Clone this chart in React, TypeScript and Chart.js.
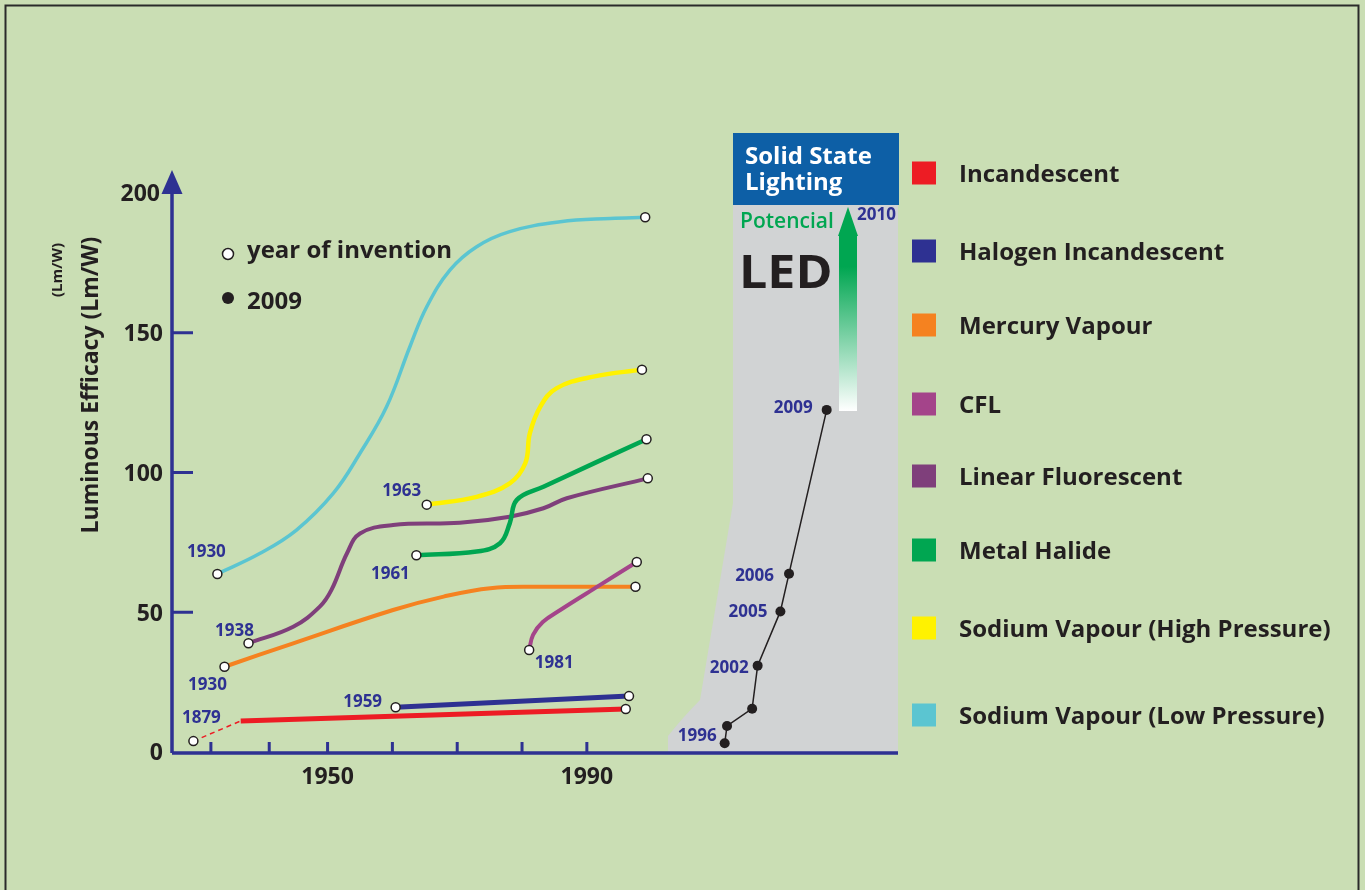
import React, { useEffect, useRef } from 'react';
import { Chart, registerables } from 'chart.js';

Chart.register(...registerables);

// ---------- data ----------
const Y_TICKS = [0, 50, 100, 150, 200];
const X_TICKS = [1932, 1941, 1950, 1960, 1970, 1980, 1990];
const X_TICK_LABELS = ['', '', '1950', '', '', '', '1990'];

const SERIES_NAMES = [
  'Incandescent',
  'Halogen Incandescent',
  'Mercury Vapour',
  'CFL',
  'Linear Fluorescent',
  'Metal Halide',
  'Sodium Vapour (High Pressure)',
  'Sodium Vapour (Low Pressure)',
];
const SERIES_COLORS = ['#ed1c24', '#2e3192', '#f58220', '#a4448a', '#7f3f7b', '#00a651', '#fff200', '#5bc5d1'];
const INVENTION_LABELS = ['1879', '1959', '1930', '1981', '1938', '1961', '1963', '1930'];

const INCANDESCENT_X = [1929.3, 1936.6, 1996.0];
const INCANDESCENT_Y = [3.9, 11.1, 15.4];
const HALOGEN_X = [1960.5, 1996.5];
const HALOGEN_Y = [16.0, 20.0];
const MERCURY_X = [1934.1, 1944.7, 1960.1, 1967.9, 1975.1, 1982.8, 1997.5];
const MERCURY_Y = [30.5, 38.9, 50.8, 55.6, 58.6, 59.1, 59.1];
const CFL_X = [1981.1, 1981.7, 1983.2, 1985.9, 1992.0, 1997.7];
const CFL_Y = [36.5, 41.9, 46.5, 50.8, 59.7, 68.0];
const LINEAR_X = [1937.8, 1944.7, 1948.8, 1950.6, 1953.0, 1955.0, 1960.1, 1970.4, 1978.1, 1983.3, 1986.9, 1999.4];
const LINEAR_Y = [38.9, 44.8, 52.0, 58.0, 71.1, 78.2, 81.2, 82.0, 84.2, 87.2, 90.8, 97.9];
const METAL_X = [1963.7, 1973.0, 1976.6, 1978.1, 1979.2, 1983.3, 1999.2];
const METAL_Y = [70.4, 71.7, 74.7, 81.8, 90.2, 94.9, 111.9];
const SODIUM_HP_X = [1965.3, 1973.0, 1978.1, 1980.5, 1981.2, 1982.8, 1985.3, 1991.0, 1998.5];
const SODIUM_HP_Y = [88.5, 91.3, 96.1, 103.3, 114.0, 123.5, 130.1, 134.3, 136.8];
const SODIUM_LP_X = [1933.0, 1939.6, 1945.2, 1950.9, 1955.0, 1959.1, 1962.7, 1965.3, 1968.9, 1973.0, 1978.1, 1985.9, 1993.6, 1999.0];
const SODIUM_LP_Y = [63.7, 71.1, 79.4, 92.6, 106.9, 123.5, 145.0, 159.3, 172.5, 180.8, 186.2, 189.7, 190.9, 191.3];

// LED inset (own time line)
const LED_T = [1996.0, 1996.3, 1999.5, 2000.2, 2003.1, 2004.2, 2009.0];
const LED_Y = [3.1, 9.3, 15.5, 30.9, 50.3, 63.8, 122.4];
const LED_LABELS = ['1996', '', '', '2002', '2005', '2006', '2009'];

// ---------- style ----------
const BG = '#cadeb4';
const NAVY = '#2e3192';
const INK = '#231f20';
const FONT = '"Open Sans", "DejaVu Sans", sans-serif';
// offset of invention label centre from the first point (px)
const LABEL_OFFSETS = [
  [8, -24], [-33, -6], [-17, 17], [25, 12], [-14, -13], [-26, 18], [-25, -15], [-11, -23],
];
const LED_LABEL_OFFSETS = [
  [-8, -8], [0, 0], [0, 0], [-9, 1], [-13, -1], [-15, 1], [-14, -3],
];
const LEGEND_Y = [173, 251, 325, 404, 476, 550, 628, 715];

function text(ctx: CanvasRenderingContext2D, s: string, x: number, cy: number, size: number, color: string, align: CanvasTextAlign = 'left', weight = '700') {
  ctx.font = `${weight} ${size}px ${FONT}`;
  ctx.fillStyle = color;
  ctx.textAlign = align;
  ctx.textBaseline = 'alphabetic';
  ctx.fillText(s, x, cy + size * 0.36);
}

const decorPlugin = {
  id: 'decor',
  beforeDraw(chart: any) {
    const { ctx, width, height } = chart;
    ctx.save();
    ctx.fillStyle = BG;
    ctx.fillRect(0, 0, width, height);
    ctx.strokeStyle = '#2a2a2a';
    ctx.lineWidth = 2;
    ctx.strokeRect(5.5, 5.5, 1353, 1000);

    // LED grey panel
    ctx.fillStyle = '#d1d3d4';
    ctx.beginPath();
    ctx.moveTo(733, 133);
    ctx.lineTo(898, 133);
    ctx.lineTo(898, 752);
    ctx.lineTo(668, 752);
    ctx.lineTo(668, 736);
    ctx.quadraticCurveTo(684, 716, 700, 700);
    ctx.lineTo(733, 503);
    ctx.closePath();
    ctx.fill();

    // blue header box
    ctx.fillStyle = '#0d5fa6';
    ctx.fillRect(733, 133, 166, 72);
    text(ctx, 'Solid State', 745, 155, 24, '#ffffff');
    text(ctx, 'Lighting', 745, 181, 24, '#ffffff');

    text(ctx, 'Potencial', 740, 220, 21, '#00a651', 'left', '600');
    ctx.save();
    ctx.translate(739, 0);
    ctx.scale(1.09, 1);
    text(ctx, 'LED', 0, 271, 46, INK);
    ctx.restore();

    // gradient arrow
    const g = ctx.createLinearGradient(0, 235, 0, 411);
    g.addColorStop(0, '#00a651');
    g.addColorStop(0.18, '#00a651');
    g.addColorStop(1, '#ffffff');
    ctx.fillStyle = g;
    ctx.fillRect(839, 234, 18, 177);
    ctx.fillStyle = '#00a651';
    ctx.beginPath();
    ctx.moveTo(838, 236);
    ctx.lineTo(858, 236);
    ctx.lineTo(848, 207);
    ctx.closePath();
    ctx.fill();
    text(ctx, '2010', 857, 214, 17, NAVY);

    // axes
    const xs = chart.scales.x;
    const ys = chart.scales.y;
    const y0 = ys.getPixelForValue(0) + 1;
    const left = chart.chartArea.left;
    const right = chart.chartArea.right;
    ctx.strokeStyle = NAVY;
    ctx.lineWidth = 3.5;
    ctx.beginPath();
    ctx.moveTo(left, y0);
    ctx.lineTo(right, y0);
    ctx.moveTo(left, y0);
    ctx.lineTo(left, ys.getPixelForValue(200));
    ctx.stroke();
    ctx.fillStyle = NAVY;
    ctx.beginPath();
    ctx.moveTo(left - 10.5, ys.getPixelForValue(200) + 1);
    ctx.lineTo(left + 10.5, ys.getPixelForValue(200) + 1);
    ctx.lineTo(left, ys.getPixelForValue(200) - 23);
    ctx.closePath();
    ctx.fill();

    ctx.lineWidth = 3;
    Y_TICKS.forEach((v) => {
      const py = ys.getPixelForValue(v);
      if (v > 0 && v < 200) {
        ctx.beginPath();
        ctx.moveTo(left, py);
        ctx.lineTo(left + 21, py);
        ctx.stroke();
      }
      text(ctx, String(v), v === 200 ? left - 12 : left - 9, py, 23, INK, 'right');
    });
    X_TICKS.forEach((v, i) => {
      const px = xs.getPixelForValue(v);
      ctx.strokeStyle = NAVY;
      ctx.beginPath();
      ctx.moveTo(px, y0);
      ctx.lineTo(px, y0 - 11);
      ctx.stroke();
      if (X_TICK_LABELS[i]) text(ctx, X_TICK_LABELS[i], px, 776, 23, INK, 'center');
    });

    // axis titles
    ctx.save();
    ctx.translate(90, 385);
    ctx.rotate(-Math.PI / 2);
    text(ctx, 'Luminous Efficacy (Lm/W)', 0, 0, 23, INK, 'center');
    ctx.restore();
    ctx.save();
    ctx.translate(57, 270);
    ctx.rotate(-Math.PI / 2);
    text(ctx, '(Lm/W)', 0, 0, 15, INK, 'center');
    ctx.restore();

    // marker key
    ctx.fillStyle = '#ffffff';
    ctx.strokeStyle = INK;
    ctx.lineWidth = 1.5;
    ctx.beginPath();
    ctx.arc(228, 254, 5.5, 0, Math.PI * 2);
    ctx.fill();
    ctx.stroke();
    ctx.fillStyle = INK;
    ctx.beginPath();
    ctx.arc(228, 298, 6, 0, Math.PI * 2);
    ctx.fill();
    text(ctx, 'year of invention', 247, 249, 24, INK);
    text(ctx, '2009', 247, 300, 24, INK);

    // legend
    SERIES_NAMES.forEach((name, i) => {
      ctx.fillStyle = SERIES_COLORS[i];
      ctx.fillRect(912, LEGEND_Y[i] - 11.5, 24, 23);
      text(ctx, name, 959, LEGEND_Y[i], 24, INK);
    });
    ctx.restore();
  },
  afterDatasetsDraw(chart: any) {
    const { ctx } = chart;
    ctx.save();
    SERIES_NAMES.forEach((_, i) => {
      const meta = chart.getDatasetMeta(i);
      const p = meta.data[0];
      text(ctx, INVENTION_LABELS[i], p.x + LABEL_OFFSETS[i][0], p.y + LABEL_OFFSETS[i][1], 17, NAVY, 'center');
    });
    const ledMeta = chart.getDatasetMeta(SERIES_NAMES.length);
    LED_LABELS.forEach((lab, i) => {
      if (!lab) return;
      const p = ledMeta.data[i];
      text(ctx, lab, p.x + LED_LABEL_OFFSETS[i][0], p.y + LED_LABEL_OFFSETS[i][1], 17, NAVY, 'right');
    });
    ctx.restore();
  },
};

export default function App() {
  const ref = useRef<HTMLCanvasElement | null>(null);

  useEffect(() => {
    document.body.style.margin = '0';
    document.body.style.background = BG;
    const xsArr = [INCANDESCENT_X, HALOGEN_X, MERCURY_X, CFL_X, LINEAR_X, METAL_X, SODIUM_HP_X, SODIUM_LP_X];
    const ysArr = [INCANDESCENT_Y, HALOGEN_Y, MERCURY_Y, CFL_Y, LINEAR_Y, METAL_Y, SODIUM_HP_Y, SODIUM_LP_Y];
    const widths = [5, 5, 4, 4, 4, 4.5, 4.5, 3.5];

    const datasets: any[] = SERIES_NAMES.map((name, i) => {
      const last = xsArr[i].length - 1;
      const ds: any = {
        label: name,
        data: xsArr[i].map((x, j) => ({ x, y: ysArr[i][j] })),
        borderColor: SERIES_COLORS[i],
        borderWidth: widths[i],
        pointRadius: (c: any) => (c.dataIndex === 0 || c.dataIndex === last ? 4.5 : 0),
        pointBackgroundColor: '#ffffff',
        pointBorderColor: INK,
        pointBorderWidth: 1.5,
        cubicInterpolationMode: 'default',
        tension: i <= 1 ? 0 : 0.4,
        fill: false,
        clip: false,
        xAxisID: 'x',
        yAxisID: 'y',
        order: 8 - i,
      };
      if (i === 0) {
        ds.segment = {
          borderDash: (c: any) => (c.p0DataIndex === 0 ? [5, 4] : undefined),
          borderWidth: (c: any) => (c.p0DataIndex === 0 ? 1.5 : undefined),
        };
      }
      return ds;
    });
    datasets.push({
      label: 'LED',
      data: LED_T.map((x, j) => ({ x, y: LED_Y[j] })),
      borderColor: INK,
      borderWidth: 1.5,
      pointRadius: 5,
      pointBackgroundColor: INK,
      pointBorderColor: INK,
      pointBorderWidth: 0,
      tension: 0,
      fill: false,
      clip: false,
      xAxisID: 'xLed',
      yAxisID: 'y',
      order: 0,
    });

    const chart = new Chart(ref.current as HTMLCanvasElement, {
      type: 'line',
      data: { datasets },
      options: {
        animation: false,
        responsive: false,
        devicePixelRatio: 1,
        events: [],
        layout: { padding: { left: 172, top: 193, right: 467, bottom: 138 } },
        scales: {
          x: { type: 'linear', display: false, min: 1926, max: 2038 },
          xLed: { type: 'linear', display: false, min: 1925.56, max: 2018.09 },
          y: { type: 'linear', display: false, min: 0, max: 200 },
        },
        plugins: { legend: { display: false }, tooltip: { enabled: false } },
      },
      plugins: [decorPlugin],
    } as any);
    return () => chart.destroy();
  }, []);

  return (
    <div style={{ width: 1365, height: 890, overflow: 'hidden', background: BG }}>
      <canvas ref={ref} width={1365} height={890} style={{ display: 'block' }} />
    </div>
  );
}
